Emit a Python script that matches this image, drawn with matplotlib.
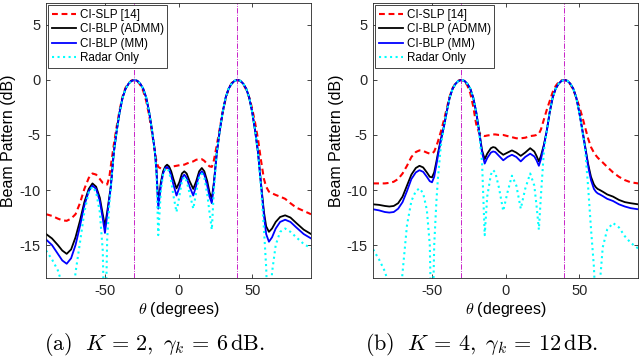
import numpy as np
import matplotlib.pyplot as plt

plt.rcParams['font.family'] = ['Liberation Sans', 'DejaVu Sans']
plt.rcParams['mathtext.fontset'] = 'cm'
plt.rcParams['axes.unicode_minus'] = False

labels = ['CI-SLP [14]', 'CI-BLP (ADMM)', 'CI-BLP (MM)', 'Radar Only']
targets = [-30, 40]

# (a) K = 2, gamma = 6 dB
theta_a = [-90, -86, -82, -79, -76, -73, -70, -67, -64, -61, -58.5, -56, -53.5, -51.5, -50, -48.5, -47,
           -46, -44, -42, -40, -38, -36, -34, -32, -30, -28, -26, -24, -22, -20, -18, -16, -15,
           -13.8, -12, -10.5, -9, -7.8, -6.5, -5, -3.5, -1.4, 0.5, 2.3, 3.9, 5.5, 7.5, 10, 12, 14,
           15.8, 17.5, 19.5, 21, 22.6,
           24, 26, 28, 30, 32, 34, 36, 38, 40, 42, 44, 46, 48, 50, 52, 54,
           56, 58, 59.5, 61.4, 63.5, 66, 69, 72.4, 76, 80, 85, 90]
slp_a = [-12.2, -12.35, -12.6, -12.75, -12.8, -12.6, -12.2, -11.2, -9.9, -8.9, -8.5, -8.6, -9.0, -9.35, -9.45, -9.5, -8.8,
         -7.8, -5.9, -4.2, -2.7, -1.5, -0.7, -0.3, -0.06, 0, -0.1, -0.45, -1.0, -1.9, -3.2, -4.8, -6.6, -7.4,
         -7.9, -8.05, -8.1, -8.05, -8.0, -7.95, -7.9, -7.85, -7.8, -7.75, -7.7, -7.7, -7.6, -7.5, -7.4, -7.25, -7.2,
         -7.2, -7.35, -7.65, -7.85, -7.9,
         -7.3, -5.9, -4.4, -2.9, -1.7, -0.8, -0.3, -0.05, 0, -0.1, -0.4, -0.9, -1.6, -2.6, -3.9, -5.4,
         -7.3, -9.0, -9.7, -10.15, -10.3, -10.45, -10.6, -10.8, -11.2, -11.6, -11.9, -12.2]
admm_a = [-14.0, -14.4, -15.0, -15.5, -15.8, -15.4, -14.3, -12.8, -11.1, -9.9, -9.4, -9.7, -10.7, -12.2, -13.3, -12.0, -10.6,
          -9.6, -6.6, -4.6, -2.9, -1.6, -0.8, -0.35, -0.08, 0, -0.08, -0.35, -0.8, -1.6, -2.9, -4.6, -6.6, -8.2,
          -11.2, -9.3, -8.3, -7.85, -7.7, -7.85, -8.3, -9.0, -9.85, -9.3, -8.5, -8.3, -8.5, -9.2, -9.9, -9.2, -8.3,
          -8.0, -8.3, -9.2, -10.2, -10.8,
          -9.3, -6.6, -4.6, -2.9, -1.6, -0.8, -0.35, -0.08, 0, -0.08, -0.35, -0.8, -1.6, -2.9, -4.6, -6.6,
          -9.4, -12.0, -13.3, -13.8, -13.5, -12.9, -12.45, -12.3, -12.5, -13.0, -13.6, -14.0]
mm_a = [-14.5, -15.0, -15.8, -16.4, -16.7, -16.2, -15.0, -13.3, -11.4, -10.1, -9.6, -9.9, -11.0, -12.6, -13.9, -12.3, -10.8,
        -9.7, -6.6, -4.6, -2.9, -1.6, -0.8, -0.35, -0.08, 0, -0.08, -0.35, -0.8, -1.6, -2.9, -4.6, -6.6, -8.3,
        -11.7, -9.6, -8.5, -8.0, -7.9, -8.1, -8.7, -9.5, -10.5, -9.8, -8.9, -8.6, -8.9, -9.7, -10.5, -9.6, -8.6,
        -8.3, -8.6, -9.6, -10.6, -11.2,
        -9.5, -6.6, -4.6, -2.9, -1.6, -0.8, -0.35, -0.08, 0, -0.08, -0.35, -0.8, -1.6, -2.9, -4.6, -6.6,
        -9.5, -12.3, -14.0, -14.7, -14.3, -13.5, -12.9, -12.7, -12.9, -13.4, -14.0, -14.4]
radar_a = [-15.5, -16.3, -17.3, -18.6, -22.0, -22.0, -17.5, -14.8, -12.0, -10.2, -9.7, -10.2, -12.0, -15.5, -25.0, -14.5, -11.2,
           -9.8, -6.6, -4.6, -2.9, -1.6, -0.8, -0.35, -0.08, 0, -0.08, -0.35, -0.8, -1.6, -2.9, -4.6, -6.7, -8.6,
           -14.1, -10.0, -8.6, -8.1, -8.0, -8.3, -9.2, -10.5, -12.0, -10.6, -9.2, -8.8, -9.2, -10.3, -11.7, -10.2, -8.9,
           -8.5, -8.9, -10.4, -12.0, -13.6,
           -10.0, -6.6, -4.6, -2.9, -1.6, -0.8, -0.35, -0.08, 0, -0.08, -0.35, -0.8, -1.6, -2.9, -4.6, -6.7,
           -9.8, -13.5, -17.0, -24.0, -17.5, -15.0, -13.8, -13.5, -13.8, -14.3, -14.9, -15.3]

# (b) K = 4, gamma = 12 dB
theta_b = [-90, -86, -82, -79, -76, -73, -70, -67, -64, -61, -58.5, -56, -53.5, -51.5, -50, -48.5, -47,
           -46, -44, -42, -40, -38, -36, -34, -32, -30, -28, -26, -24, -22, -20, -18, -16,
           -14.2, -12.5, -10, -8.5, -7, -4.5, -1.6, 1.3, 4.3, 7.3, 10.3, 13.3, 16.7, 19.5, 21, 22.6,
           24, 26, 28, 30, 32, 34, 36, 38, 40, 42, 44, 46, 48, 50, 52, 54,
           56, 58, 60, 61.3, 62.5, 64, 66, 69, 73, 77, 81, 85, 90]
slp_b = [-9.4, -9.4, -9.4, -9.35, -9.25, -9.0, -8.5, -7.8, -7.0, -6.55, -6.4, -6.45, -6.6, -6.7, -6.7, -6.5, -6.0,
         -5.6, -4.7, -3.7, -2.6, -1.5, -0.75, -0.3, -0.06, 0, -0.1, -0.5, -1.2, -2.4, -4.0, -4.8, -5.0,
         -5.1, -5.05, -5.0, -4.95, -4.95, -5.0, -5.0, -5.1, -5.2, -5.3, -5.3, -5.25, -5.1, -5.05, -5.0, -4.9,
         -4.5, -3.6, -2.7, -1.9, -1.1, -0.55, -0.2, -0.04, 0, -0.1, -0.4, -0.9, -1.6, -2.4, -3.3, -4.3,
         -5.3, -6.1, -6.6, -6.85, -7.05, -7.25, -7.5, -7.9, -8.4, -8.8, -9.1, -9.3, -9.4]
admm_b = [-11.3, -11.35, -11.45, -11.5, -11.45, -11.2, -10.6, -9.6, -8.6, -8.0, -7.8, -7.95, -8.4, -8.8, -8.85, -8.4, -7.4,
          -6.7, -5.4, -4.3, -2.9, -1.6, -0.8, -0.35, -0.08, 0, -0.08, -0.35, -0.8, -1.6, -2.9, -4.6, -6.4,
          -7.2, -6.7, -6.2, -6.1, -6.15, -6.5, -6.8, -6.6, -6.4, -6.6, -6.9, -6.6, -6.2, -6.5, -6.9, -7.4,
          -6.9, -5.9, -4.6, -2.9, -1.6, -0.8, -0.35, -0.08, 0, -0.08, -0.35, -0.8, -1.6, -2.9, -4.4, -6.0,
          -7.6, -8.8, -9.5, -9.75, -9.9, -10.0, -10.15, -10.4, -10.6, -10.9, -11.1, -11.2, -11.3]
mm_b = [-11.75, -11.85, -12.0, -12.05, -12.0, -11.7, -11.1, -10.1, -9.0, -8.4, -8.2, -8.35, -8.8, -9.2, -9.3, -8.8, -7.7,
        -6.9, -5.5, -4.3, -2.9, -1.6, -0.8, -0.35, -0.08, 0, -0.08, -0.35, -0.8, -1.6, -2.9, -4.7, -6.6,
        -7.6, -7.1, -6.6, -6.5, -6.55, -6.9, -7.3, -7.0, -6.8, -7.0, -7.4, -7.0, -6.7, -6.95, -7.3, -7.8,
        -7.2, -6.0, -4.6, -2.9, -1.6, -0.8, -0.35, -0.08, 0, -0.08, -0.35, -0.8, -1.6, -2.9, -4.5, -6.1,
        -7.8, -9.1, -9.9, -10.15, -10.3, -10.4, -10.55, -10.8, -11.0, -11.3, -11.5, -11.65, -11.75]
radar_b = [-15.4, -16.3, -17.4, -18.8, -22.0, -22.0, -17.5, -13.2, -11.0, -10.1, -9.85, -10.3, -11.8, -15.0, -25.0, -15.0, -11.0,
           -9.0, -6.0, -4.4, -2.9, -1.6, -0.8, -0.35, -0.08, 0, -0.08, -0.35, -0.8, -1.6, -2.9, -4.7, -7.5,
           -14.1, -10.6, -8.6, -8.2, -8.4, -9.8, -11.9, -10.2, -8.7, -9.6, -11.7, -9.9, -8.5, -9.6, -11.4, -13.6,
           -10.5, -6.5, -4.6, -2.9, -1.6, -0.8, -0.35, -0.08, 0, -0.08, -0.35, -0.8, -1.6, -2.9, -4.5, -6.3,
           -9.6, -13.5, -17.0, -21.0, -24.0, -18.5, -15.2, -13.6, -13.0, -13.4, -14.2, -14.8, -15.3]

panels = [
    (theta_a, [slp_a, admm_a, mm_a, radar_a], r'$\mathrm{(a)}\ \ K\,=\,2,\ \gamma_k\,=\,6\,\mathrm{dB}.$', 0.072),
    (theta_b, [slp_b, admm_b, mm_b, radar_b], r'$\mathrm{(b)}\ \ K\,=\,4,\ \gamma_k\,=\,12\,\mathrm{dB}.$', 0.583),
]
styles = [dict(color='#ff0000', ls='--', lw=1.5, dashes=(2.8, 1.8)),
          dict(color='k', ls='-', lw=1.3),
          dict(color='#0000ff', ls='-', lw=1.3),
          dict(color='#00ffff', ls=':', lw=1.5)]

fig = plt.figure(figsize=(6.4, 3.63), dpi=100)
for theta, curves, caption, left in panels:
    ax = fig.add_axes([left, 0.234, 0.414, 0.758])
    for y, lab, st in zip(curves, labels, styles):
        ax.plot(theta, y, label=lab, **st)
    for t in targets:
        ax.axvline(t, color='m', ls='-.', lw=0.6)
    ax.set_xlim(-90, 90)
    ax.set_ylim(-18, 7)
    ax.set_xticks([-50, 0, 50])
    ax.set_yticks([-15, -10, -5, 0, 5])
    ax.tick_params(direction='in', top=True, right=True, labelsize=10.5, length=3, width=0.6,
                   colors='0.15', pad=4)
    for s in ax.spines.values():
        s.set_linewidth(0.6)
        s.set_color('0.15')
    ax.set_xlabel(r'$\theta$ (degrees)', fontsize=11.5, labelpad=2)
    ax.set_ylabel('Beam Pattern (dB)', fontsize=11.5, labelpad=2)
    leg = ax.legend(loc='upper left', fontsize=8.4, fancybox=False, framealpha=1, edgecolor='0.15',
                    borderpad=0.3, labelspacing=0.22, handlelength=2.1, handletextpad=0.3,
                    borderaxespad=0.2)
    leg.get_frame().set_linewidth(0.6)
    fig.text(left + 0.17, 0.05, caption, ha='center', va='center', fontsize=16)

plt.savefig('out.png', dpi=100)
